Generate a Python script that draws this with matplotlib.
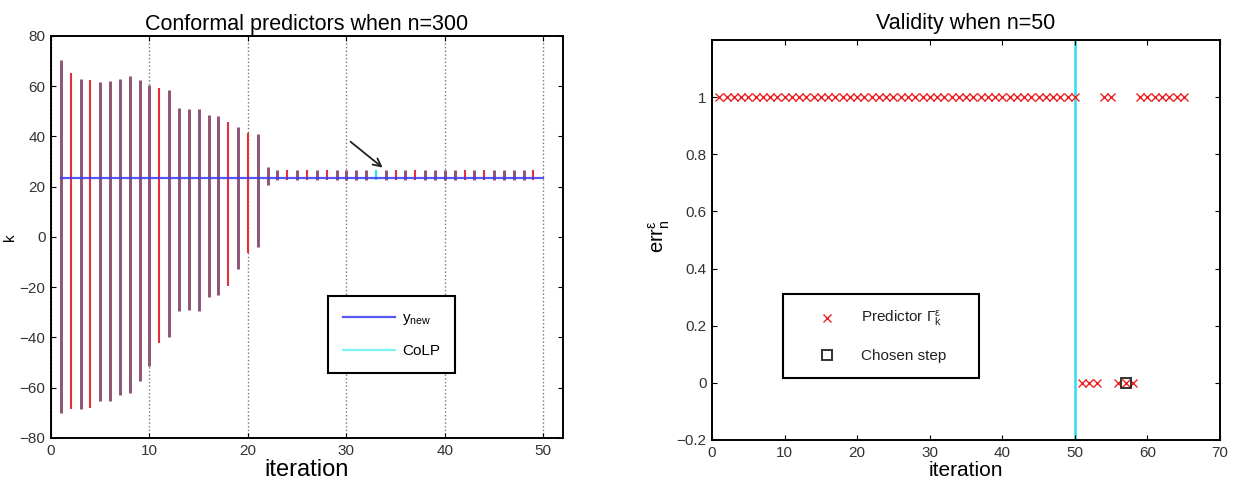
import matplotlib
matplotlib.use("Agg")
import matplotlib.pyplot as plt
from matplotlib.ticker import FuncFormatter

plt.rcParams['font.family'] = ['Liberation Sans', 'DejaVu Sans']
plt.rcParams['mathtext.fontset'] = 'custom'
plt.rcParams['mathtext.rm'] = 'Liberation Sans'
plt.rcParams['mathtext.it'] = 'Liberation Sans:italic'

# === left panel: conformal predictor intervals ===
iteration = list(range(1, 51))
upper = [70.4, 65.2, 62.9, 62.3, 61.6, 61.9, 62.9, 64.1, 62.3, 60.3,
         59.3, 58.5, 51.4, 50.9, 51.0, 48.4, 48.2, 45.9, 43.6, 41.3,
         41.0, 27.8] + [26.8] * 28
lower = [-70.0, -68.4, -68.3, -68.2, -65.1, -65.2, -62.8, -62.2, -57.5, -51.4,
         -42.2, -39.8, -29.5, -28.9, -29.3, -23.9, -23.0, -19.7, -12.7, -6.2,
         -4.0, 20.8] + [22.8] * 28
# P = overlapping (purple), R = red, C = chosen (CoLP)
kind = "PRPRPPPPPPRPPPPPPRPRPPPRPRPRPPPPCPRPRPPPPRPRPPPPR"
y_new = 23.5
colp_iter = 34

# === right panel: validity ===
steps = list(range(1, 66))
err = [1] * 50 + [0, 0, 0, 1, 1, 0, 0, 0, 1, 1, 1, 1, 1, 1, 1]
chosen_x = 57
chosen_y = 0
n_line = 50

fig = plt.figure(figsize=(12.33, 4.86), dpi=100)
ax1 = fig.add_axes([0.0414, 0.0988, 0.4152, 0.8272])
ax2 = fig.add_axes([0.5775, 0.0947, 0.4120, 0.8230])

col = {'P': '#8f5475', 'R': '#e3303a', 'C': '#30e0f0'}
lw = {'P': 2.1, 'R': 1.5, 'C': 1.6}
for x, lo, hi, k in zip(iteration, lower, upper, kind):
    ax1.plot([x, x], [lo, hi], color=col[k], lw=lw[k], solid_capstyle='butt', zorder=2)

ax1.plot([iteration[0], iteration[-1]], [y_new, y_new], color='#3a3af0', lw=1.6,
         alpha=0.85, zorder=3, label=r'$\mathregular{y_{new}}$')
ax1.plot([], [], color='#7ff5f5', lw=1.6, label='CoLP')
ax1.annotate('', xy=(colp_iter - 0.1, y_new + 3.4), xytext=(30.2, 38.6),
             arrowprops=dict(arrowstyle='->', color='#222222', lw=1.3,
                             mutation_scale=14))

ax1.set_xlim(0, 52)
ax1.set_ylim(-80, 80)
ax1.set_xticks(range(0, 51, 10))
ax1.set_yticks(range(-80, 81, 20))
ax1.xaxis.grid(True, linestyle=':', color='#777777', lw=1)
ax1.set_title('Conformal predictors when n=300', fontsize=15.5, pad=4)
ax1.set_xlabel('iteration', fontsize=17, labelpad=1)
ax1.set_ylabel('k', fontsize=11)
ax1.yaxis.set_label_coords(-0.066, 0.5)
leg1 = ax1.legend(loc='upper left', mode='expand',
                  bbox_to_anchor=(0.541, 0.0, 0.248, 0.353), fontsize=11,
                  handlelength=3.4, handletextpad=0.45, labelspacing=1.1,
                  borderpad=1.0, borderaxespad=0, fancybox=False,
                  edgecolor='black', framealpha=1)
leg1.get_frame().set_linewidth(1.5)

# right panel
ax2.axvline(n_line, color='#40e0ee', lw=2, zorder=1)
ax2.plot(steps, err, linestyle='none', marker='x', color='#ee2222',
         markersize=6, mew=1.0, zorder=2, label=r'Predictor $\mathregular{\Gamma_k^{\epsilon}}$')
ax2.plot([chosen_x], [chosen_y], linestyle='none', marker='s', markersize=6.5,
         markerfacecolor='none', markeredgecolor='#333333', mew=1.4, zorder=3,
         label='Chosen step')
ax2.set_xlim(0, 70)
ax2.set_ylim(-0.2, 1.2)
ax2.set_xticks(range(0, 71, 10))
ax2.set_yticks([-0.2, 0, 0.2, 0.4, 0.6, 0.8, 1.0])
ax2.yaxis.set_major_formatter(FuncFormatter(lambda v, p: f'{v:g}'.replace('-', '\u2212')))
ax2.set_title('Validity when n=50', fontsize=15.5, pad=8)
ax2.set_xlabel('iteration', fontsize=15, labelpad=1)
ax2.set_ylabel(r'$\mathregular{err_n^{\epsilon}}$', fontsize=14.5)
ax2.yaxis.set_label_coords(-0.079, 0.51)
leg2 = ax2.legend(loc='upper left', mode='expand',
                  bbox_to_anchor=(0.140, 0.0, 0.386, 0.365), fontsize=11,
                  handlelength=3.7, handletextpad=0.4, labelspacing=1.3,
                  borderpad=1.0, borderaxespad=0, fancybox=False,
                  edgecolor='black', framealpha=1)
leg2.get_frame().set_linewidth(1.5)
for t in leg2.get_texts():
    t.set_color('#222222')

for ax in (ax1, ax2):
    ax.tick_params(direction='in', top=True, right=True, length=3.5, width=0.8,
                   labelsize=11, labelcolor='#333333', pad=4)
    for s in ax.spines.values():
        s.set_linewidth(1.4)

fig.savefig('out.png', dpi=100)
